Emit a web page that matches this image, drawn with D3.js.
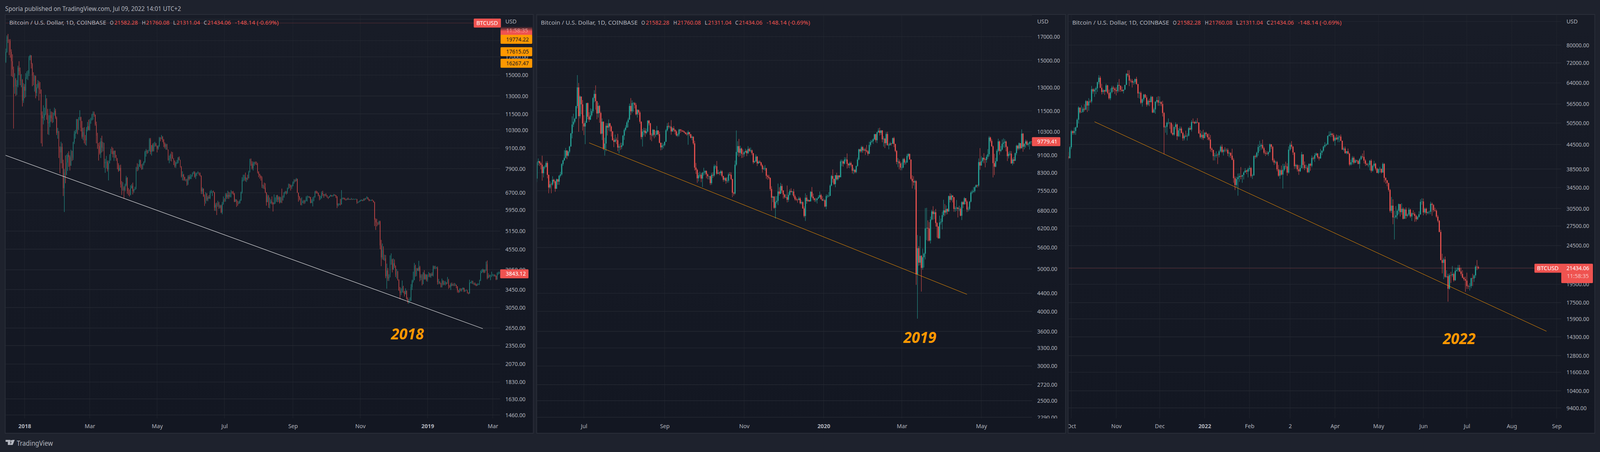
<!DOCTYPE html>
<html>
<head>
<meta charset="utf-8">
<script src="https://d3js.org/d3.v7.min.js"></script>
<style>
html, body { margin: 0; padding: 0; width: 100%; height: 100%; overflow: hidden; background: #1e222d; }
svg { display: block; width: 100vw; height: 100vh; }
text { font-family: "Noto Sans", sans-serif; }
</style>
</head>
<body>
<svg id="chart" viewBox="0 0 4296 1156" preserveAspectRatio="none"></svg>
<script>
// daily candles, open is the previous close. values
var start2018 = Date.UTC(2017, 11, 14);
var open2018 = 16000;
var closes2018 = [
16400,17600,19500,19000,18950,17600,16500,15600,13800,14600,13900,14000,15800,15400,14400,14500,12600,13860,
13480,14780,15130,15160,16930,17150,16180,14970,14400,14900,13270,13800,14200,13600,13580,11400,11160,11250,11500,12760,11530,10780,10840,11400,11170,11100,11440,11750,11200,10100,10220,
9060,8830,9170,8200,6910,7700,7580,8240,8680,8550,8060,8900,8510,9470,10030,10160,11090,10380,11150,11230,10460,9830,10150,9690,9590,10310,10570,10310,
10920,11020,11440,11510,11430,10710,9900,9290,9230,8780,9530,9130,9150,8200,8260,8270,7860,8200,8600,8900,8890,8720,8920,8540,8440,8130,7790,7940,7090,6840,6930,
6820,7060,7420,6780,6770,6610,6900,7020,6770,6830,6940,7920,7890,8000,8360,8050,7890,8170,8280,8860,8920,8800,8940,9650,8870,9280,8930,9350,9390,9240,
9070,9220,9750,9700,9850,9620,9370,9180,9310,9010,8400,8470,8680,8670,8470,8340,8050,8230,8230,8520,8390,8000,7510,7580,7460,7330,7330,7110,7460,7370,7490,
7530,7640,7710,7480,7620,7650,7680,7620,7530,6760,6880,6540,6300,6640,6390,6490,6450,6710,6740,6750,6720,6050,6170,6150,6250,6070,6130,5850,6200,6380,
6350,6610,6510,6590,6530,6600,6750,6710,6660,6300,6390,6240,6220,6250,6350,6720,7310,7380,7470,7330,7410,7400,7720,8400,8170,7930,8190,8230,8210,8170,7730,
7600,7530,7410,7010,7030,6940,6720,6280,6540,6150,6240,6310,6250,6190,6270,6310,6580,6390,6490,6260,6480,6360,6520,6700,6730,6700,6910,7080,7030,6980,7010,
7190,7280,7260,7360,6700,6510,6410,6180,6250,6300,6280,6330,6480,6480,6520,6500,6250,6340,6390,6490,6750,6710,6700,6580,6430,6460,6680,6630,6590,6620,
6580,6500,6480,6540,6590,6550,6570,6610,6590,6530,6150,6190,6200,6180,6440,6460,6440,6400,6390,6420,6410,6410,6400,6420,6400,6410,6410,6410,6270,6280,6320,
6350,6370,6350,6420,6400,6440,6490,6410,6340,6370,6370,6350,6280,5570,5470,5430,5420,5500,4670,4300,4520,4240,4270,3780,3930,3720,3760,4200,4230,3960,
4130,4050,3820,3900,3680,3430,3370,3390,3520,3400,3340,3420,3240,3180,3190,3200,3510,3660,3680,4060,3830,3980,3930,4020,3740,3790,3580,3860,3710,3820,3690,
3800,3860,3780,3830,3800,4040,3990,4000,4000,3630,3640,3610,3510,3660,3580,3600,3620,3590,3680,3530,3520,3580,3550,3570,3560,3560,3530,3430,3400,3460,3430,
3460,3490,3410,3420,3430,3370,3360,3620,3620,3660,3590,3590,3570,3550,3570,3580,3660,3870,3900,3950,3880,3940,4100,3730,3800,3790,3790,3790,
3810,3810,3790,3700,3850,3860,3870,3843];
var highs2018 = [
16800,17990,19700,19890,19180,19200,17900,17300,15900,15200,14700,14500,16000,16500,15800,15100,14600,14200,
14100,15200,15400,15500,17100,17250,17200,16300,15300,15000,14950,14100,14500,14400,14300,13600,11700,12200,12000,13100,12800,11900,11400,11900,11700,11650,11600,12000,11900,11300,10450,
10200,9200,9500,9400,8400,7880,8650,8700,8800,8900,8650,9000,8930,9500,10230,10300,11100,11100,11250,11790,11280,10950,10450,10500,9950,10500,10880,11050,
11100,11200,11500,11700,11680,11450,10900,10100,9420,9480,9750,9900,9480,9430,8450,8620,8360,8350,8720,9050,9180,9100,8940,8950,8680,8500,8210,8090,8120,7250,7200,
7000,7130,7520,7450,6920,6850,7050,7110,7180,6880,6980,8000,8200,8150,8420,8400,8140,8190,8310,8930,9040,8980,8990,9740,9750,9290,9390,9440,9500,9420,
9250,9280,9820,9800,9950,9860,9680,9460,9380,9360,9010,8640,8760,8880,8850,8490,8360,8280,8390,8550,8590,8400,8040,7760,7620,7470,7360,7370,7550,7560,7610,
7590,7700,7760,7760,7690,7700,7760,7700,7690,7540,6950,6900,6620,6720,6680,6550,6590,6790,6830,6780,6800,6730,6240,6260,6340,6290,6170,6170,6290,6530,
6450,6680,6680,6790,6740,6710,6820,6770,6780,6690,6420,6400,6340,6320,6400,6750,7450,7580,7580,7690,7440,7580,7790,8450,8470,8310,8290,8280,8300,8290,8220,
7760,7630,7540,7490,7080,7180,7150,6720,6620,6590,6480,6400,6530,6280,6620,6490,6590,6600,6540,6530,6510,6890,6570,6730,6780,6780,6940,7130,7120,7080,7070,
7240,7350,7340,7410,7380,6710,6550,6450,6490,6350,6380,6370,6540,6570,6550,6540,6510,6410,6500,6540,6780,6800,6770,6700,6600,6560,6760,6790,6620,6650,
6670,6590,6510,6550,6610,6590,6590,6640,6620,6590,6540,6230,6230,6420,6820,6480,6480,6470,6420,6450,6480,6430,6420,6460,6420,6430,6420,6430,6420,6300,6340,
6380,6400,6380,6440,6450,6470,6540,6490,6420,6380,6390,6400,6350,6300,5620,5600,5470,5530,5530,4850,4730,4640,4380,4370,4120,4000,3830,4360,4420,4260,
4270,4240,4070,3970,3920,3700,3510,3480,3670,3540,3420,3480,3430,3270,3230,3270,3580,3690,3900,4140,4090,4000,4000,4200,4060,3830,3830,3890,3940,3840,3830,
3830,3890,3860,3860,3880,4070,4060,4060,4030,4040,3710,3650,3610,3720,3680,3660,3660,3630,3760,3710,3560,3610,3620,3590,3610,3600,3570,3530,3440,3480,3480,
3480,3500,3490,3440,3450,3440,3390,3690,3640,3670,3660,3620,3620,3590,3600,3600,3690,3930,3960,3980,3960,3960,4180,4210,3860,3820,3820,3900,
3840,3830,3830,3800,3880,3900,3900,3920];
var lows2018 = [
15900,16300,17500,18700,17200,16900,14900,14800,10400,13200,13000,13100,13800,15000,14000,13800,12100,12400,
12800,12900,14600,14500,14900,16600,15700,13900,14000,13400,12800,13000,13700,12600,13200,9400,9200,10700,11000,11400,11050,10000,9950,10500,10900,10800,10850,11350,11100,9950,9700,
8500,7650,8200,7920,6550,5870,7150,7550,7780,8000,7800,8100,8330,8380,9350,9700,10050,10000,10300,11000,10200,9700,9600,9400,9300,9250,10200,10270,
10250,10750,10990,11050,11280,10600,9400,9050,8350,8700,8500,8830,8900,7950,7680,7920,7750,7290,8190,8350,8740,8530,8330,8500,8330,7870,7730,7780,6940,6600,6790,
6430,6760,7000,6650,6580,6530,6580,6950,6620,6700,6820,6860,7760,7800,8000,7940,7840,7860,8080,8220,8580,8740,8790,8900,8720,8640,8880,8890,9180,9200,
8830,8990,9170,9530,9660,9480,9160,9070,8990,8990,8350,8200,8330,8300,8450,8100,7960,7940,8160,8190,8360,7960,7440,7290,7280,7270,7240,7030,7060,7290,7350,
7360,7480,7610,7430,7360,7520,7640,7550,7490,6640,6640,6510,6120,6220,6330,6320,6430,6410,6680,6550,6700,5920,5910,5750,6080,6000,6020,5830,5780,6170,
6290,6300,6420,6430,6420,6490,6490,6650,6600,6280,6290,6080,6130,6200,6220,6340,6660,7240,7280,7240,7210,7310,7390,7700,8060,7860,7800,8060,8130,8100,7650,
7450,7370,7280,6920,6890,6870,6680,6130,6280,6040,6020,6210,6180,5890,6200,6210,6290,6280,6290,6220,6260,6240,6350,6470,6650,6620,6650,6870,6910,6800,6880,
7000,7130,7210,7240,6690,6300,6360,6150,6140,6240,6200,6220,6320,6310,6480,6450,6230,6240,6100,6320,6480,6660,6660,6540,6360,6390,6440,6550,6470,6540,
6530,6470,6420,6470,6520,6520,6520,6540,6560,6460,6030,6100,6150,6140,6320,6400,6400,6370,6350,6370,6380,6380,6380,6380,6380,6390,6390,6400,6210,6240,6270,
6300,6330,6320,6330,6350,6390,6450,6380,6320,6340,6330,6330,6260,5330,5190,5320,5360,5380,4550,4050,4240,4220,4200,3730,3470,3660,3660,3750,4090,3880,
3950,4000,3760,3720,3670,3420,3230,3320,3380,3370,3290,3340,3220,3140,3130,3180,3190,3440,3620,3680,3770,3780,3920,3910,3650,3680,3550,3590,3690,3690,3650,
3640,3760,3750,3740,3790,3770,3970,3970,3980,3570,3580,3580,3500,3500,3550,3560,3550,3570,3590,3470,3490,3440,3530,3540,3530,3540,3480,3380,3370,3380,3410,
3400,3450,3390,3400,3420,3360,3340,3350,3600,3590,3580,3560,3550,3530,3540,3560,3560,3660,3860,3880,3860,3870,3920,3700,3730,3750,3680,3760,
3790,3770,3770,3680,3690,3820,3840,3790];

var start2019 = Date.UTC(2019, 4, 26);
var open2019 = 8050;
var closes2019 = [
8770,8820,8720,8660,8280,8560,
8560,8740,8210,7680,7810,7800,8000,7930,7630,8020,7920,8170,8230,8690,8860,8980,9330,9080,9280,9530,10210,10700,10860,11030,11790,13010,11180,12400,11900,10760,
10590,10800,11980,11150,10980,11230,11480,12300,12570,12100,11340,11800,11370,10200,10860,9430,9680,10630,10530,10770,10590,10320,9850,9770,9880,9850,9480,9530,9510,9590,10090,
10400,10530,10820,10980,11800,11470,11980,11980,11860,11290,11560,11400,10860,10020,10310,10360,10230,10320,10920,10770,10130,10110,10410,10140,10140,10370,10170,9720,9490,9580,9600,
9770,10380,10620,10580,10580,10320,10490,10400,10320,10100,10160,10420,10370,10360,10310,10260,10190,10160,10280,10170,9980,10030,9690,8530,8430,8060,8190,8210,8050,8300,
8310,8380,8230,8150,8150,7860,8210,8180,8590,8590,8260,8300,8280,8360,8160,8000,8070,7950,7960,8230,8210,8030,7470,7440,8660,9260,9550,9220,9430,9170,9150,
9250,9310,9200,9410,9310,9340,9200,8770,8810,9040,8720,8800,8760,8630,8460,8490,8500,8170,8120,8080,7620,7280,7320,6900,7120,7160,7520,7430,7740,7560,
7400,7300,7300,7200,7390,7540,7500,7520,7340,7220,7200,7190,7250,7070,7110,6880,6610,7280,7150,7190,7140,7510,7320,7250,7190,7190,7250,7300,7380,7220,7170,
7180,6950,7340,7350,7350,7760,8160,8040,7820,8190,8020,8180,8110,8810,8810,8710,8900,8900,8700,8630,8730,8660,8390,8430,8330,8600,8900,9390,9290,9500,9340,
9380,9330,9290,9170,9610,9760,9800,9900,10170,9850,10270,10360,10240,10370,9900,9930,9700,10180,9600,9600,9690,9670,9960,9660,9310,8790,8810,8720,8530,
8530,8920,8760,8760,9070,9160,8900,8040,7940,7890,7940,4860,5580,5170,5360,5030,5320,5420,6190,6210,6190,5810,6490,6770,6680,6740,6370,6250,5880,6390,6410,
6640,6810,6730,6860,6770,7340,7200,7360,7300,6860,6880,6910,6860,6870,6620,7110,7030,7260,7130,6840,6860,7130,7480,7510,7540,7690,7780,7760,8780,8620,
8830,8980,8900,8880,9030,9150,9990,9810,9540,8730,8570,8820,9320,9790,9310,9380,9670,9730,9780,9510,9060,9170,9180,8720,8900,8840,9200,9570,9430,9700,9450,
10200,9520,9670,9790,9620,9670,9750,9780,9779];
var highs2019 = [
8820,8950,8830,8780,9080,8600,
8640,8820,8830,8220,7950,7880,8150,8040,7960,8050,8040,8200,8340,8730,8890,9350,9460,9350,9320,9570,10240,11170,11330,11080,11800,13880,13320,12470,12250,12170,
11240,10910,11980,12010,11420,11650,11620,12360,12820,13150,12110,12000,11860,11450,11050,10880,9980,10780,10770,10990,10790,10650,10340,9950,10150,9990,10190,9640,9720,9720,10130,
10480,10660,10900,11090,11950,12300,12150,12040,12040,11980,11600,11570,11480,10880,10450,10520,10500,10480,10950,10960,10800,10230,10450,10400,10350,10620,10380,10300,9730,9720,9680,
9780,10450,10780,10820,10640,10950,10560,10610,10440,10390,10240,10460,10450,10440,10380,10360,10280,10260,10370,10270,10180,10100,10060,9820,8740,8480,8300,8350,8290,8340,
8520,8410,8400,8270,8160,8170,8300,8320,8670,8650,8830,8430,8350,8420,8410,8170,8110,8110,8110,8300,8330,8320,8040,7510,8850,10370,9800,9920,9570,9480,9380,
9290,9420,9370,9550,9470,9480,9380,9210,8860,9140,9060,8860,8860,8790,8680,8580,8640,8520,8220,8210,8100,7730,7350,7340,7340,7340,7840,7690,7870,7820,
7570,7430,7410,7760,7490,7610,7650,7540,7620,7400,7290,7240,7320,7300,7180,7140,6950,7450,7380,7230,7190,7530,7700,7440,7270,7270,7270,7370,7520,7430,7340,
7250,7220,7410,7400,7500,7810,8210,8450,8030,8210,8300,8200,8200,8890,8900,8850,9010,9000,9190,8740,8790,8800,8660,8520,8450,8620,8990,9420,9420,9570,9550,
9450,9470,9610,9350,9770,9860,9880,9950,10180,10190,10300,10490,10520,10390,10390,10060,9970,10280,10300,9680,9770,9710,9990,10030,9670,9350,8970,8900,8800,
8760,8970,8980,8850,9170,9200,9190,8900,8190,8150,7990,7980,5980,5640,5950,5380,5570,5450,6890,6900,6460,6400,6590,6830,6960,6800,6860,6400,6270,6620,6520,
6760,7200,7040,6990,6880,7360,7450,7420,7380,7300,6950,7190,6930,6980,6930,7150,7150,7300,7260,7180,6940,7160,7530,7590,7700,7730,7800,7790,8950,9450,
9060,9000,9200,8960,9120,9400,10070,10040,9900,9580,9170,8980,9400,9930,9840,9560,9890,9950,9900,9830,9560,9270,9310,9300,8980,9020,9230,9620,9610,9740,9700,
10430,10230,9690,9880,9860,9730,9800,9800,9990];
var lows2019 = [
7900,8630,8600,8450,7960,8100,
8460,8530,8060,7450,7620,7450,7750,7860,7510,7620,7790,7790,8100,8180,8610,8840,8950,8920,9040,9200,9530,9950,10560,10780,11040,11650,10300,11050,11300,10360,
10120,9650,10800,11000,10850,10950,11150,11370,12030,11570,11000,11100,10800,10150,9860,9350,9080,9300,10100,10360,10320,10050,9830,9500,9740,9650,9300,9190,9360,9400,9560,
9870,10330,10510,10540,10970,11250,11360,11450,11650,11230,11100,11260,10750,9900,9530,10110,10030,10160,10270,10650,9870,9800,10040,9950,10010,10150,10100,9690,9340,9370,9430,
9540,9770,10320,10480,10480,10140,10300,10320,10160,10050,10020,10050,10240,10280,10300,10230,10150,10090,9620,10070,9950,9850,9620,8400,8250,7870,7930,8100,7900,7700,
8180,8220,8060,8020,8010,7780,7790,8080,8120,8480,8210,8250,8200,8190,8100,7920,7930,7830,7870,7880,8170,7990,7300,7360,7400,8600,9090,9030,9080,8970,8980,
9030,9210,9060,9160,9260,9240,9110,8690,8740,8790,8600,8690,8730,8580,8310,8430,8390,8040,8000,8020,7550,6800,7110,6860,6520,7060,7000,7360,7420,7470,
7240,7250,7260,7100,7120,7360,7480,7380,7280,7170,7160,7090,7210,7030,7020,6860,6560,6440,7050,7120,7120,7130,7270,7180,7120,7110,7060,7240,7270,7210,7150,
7150,6920,6850,7270,7300,7340,7730,7880,7780,7690,7970,7970,8050,8100,8590,8570,8670,8800,8490,8520,8500,8580,8270,8240,8280,8280,8570,8860,9220,9220,9220,
9300,9120,9230,9080,9170,9520,9720,9660,9860,9740,9700,10240,10100,10130,9750,9520,9450,9590,9570,9390,9580,9580,9670,9500,9250,8680,8550,8450,8410,
8410,8500,8660,8670,8760,9000,8900,8000,7640,7760,7600,4600,3850,5090,5100,4440,4980,5040,5260,5820,5790,5780,5720,6460,6480,6500,6250,5900,5860,5860,6320,
6160,6580,6610,6660,6670,6760,7100,7160,7100,6760,6760,6790,6560,6780,6600,6470,6890,7020,7030,6750,6770,6810,7100,7420,7470,7480,7680,7680,7700,8430,
8620,8760,8730,8540,8750,8930,9040,9730,9520,8100,8200,8540,8810,9260,9130,9250,9340,9480,9470,9290,8830,8950,9090,8700,8630,8700,8830,9110,9340,9360,9390,
9420,9270,9390,9470,9580,9530,9380,9640,9570];

var start2022 = Date.UTC(2021, 8, 29);
var open2022 = 41500;
var closes2022 = [
41040,43800,
48140,47630,48200,49230,51500,55340,53800,53950,54950,54680,57480,56000,57370,57350,61670,60870,61530,62010,64280,66000,62200,60690,61300,60850,63080,60330,58450,60590,62270,61890,61340,
60970,63250,62940,61440,61010,61530,63270,67550,66940,64880,64780,64150,64400,65520,63600,60160,60370,56920,58120,59750,58700,56300,57570,57170,58960,53750,54750,57290,57830,56990,
57210,56510,53600,49250,49400,50580,50620,50490,47670,47180,49320,50100,46730,48370,48880,47640,46150,46850,46700,46880,49010,48600,50820,50810,50410,50800,50700,47540,46470,47120,46210,
47690,47300,46440,45830,43430,43090,41550,41680,41860,41820,42730,43920,42590,43080,43070,43090,42200,42350,41660,40680,36470,35030,36280,36680,36960,36810,37160,37710,38170,37920,38480,
38740,36950,37080,41570,41380,42380,43840,44050,44380,43520,42380,42200,42070,42530,44550,43880,40520,40000,40130,38430,37020,38240,37260,38330,39210,39110,37700,43180,
44430,43920,42450,39150,39400,38420,37990,38730,41980,39440,38730,38810,37790,39680,39280,41120,40930,41770,42200,41260,41000,42370,42890,43960,44350,44510,46830,47130,47430,47070,45530,
46300,45860,46450,46620,45500,43170,43450,42280,42780,42160,39530,40080,41150,39940,40550,40380,39680,40800,41500,41370,40480,39710,39450,39450,40440,38110,39240,39740,38600,37630,
38470,38530,37730,39690,36550,36010,35470,34040,30080,31020,28930,28980,29290,30090,31310,29850,30430,28700,30320,29200,29430,30300,29100,29650,29540,29210,28630,29030,29470,31730,31800,
29800,30450,29700,29860,29910,31370,31130,30200,30110,29070,28370,26560,22490,22130,22580,20380,20450,19000,20580,20570,20720,19970,21110,21230,21490,21040,20730,20280,20100,19930,
19290,19230,19300,20230,20190,20550,21640,21582,21434];
var highs2022 = [
42580,44100,
48500,48350,49200,49450,51900,55750,55300,56100,55500,56400,57800,57650,58500,58000,62900,62000,62000,62600,64480,67000,66700,63650,61700,61500,63700,63300,61500,62000,62950,62900,62350,
62400,64250,65500,63100,62600,61550,63300,67800,69000,69000,65600,65500,65000,65600,66350,63500,60800,60900,58400,60000,60000,59500,58000,58350,59400,59200,55300,57450,58900,59200,
59100,57400,57600,53900,49800,50900,51900,50780,50800,50100,49500,50700,50300,49000,49500,49400,48000,47300,48300,47500,49300,49600,51380,51900,51100,51300,52000,50700,48500,48150,48550,
47900,47990,47550,47500,47080,43750,43150,42300,42750,42250,43100,44300,44500,43400,43800,43500,43500,42650,42500,43400,41100,36850,36800,37500,37550,38950,37200,38000,38700,38350,38800,
39300,38950,37400,41750,41900,42650,44500,45500,44800,45800,43900,43000,42750,42800,44750,44600,44150,40950,40450,40400,39450,38450,39300,39700,39700,40200,39850,44000,
44950,45400,44100,42500,39700,39600,39450,39400,42600,42000,40250,39500,39300,39800,39900,41700,41450,42300,42450,42300,41550,43350,43000,44200,45100,44800,46950,48100,48100,47650,47600,
46700,47200,47000,47000,47200,45500,43900,43950,42800,43450,42400,40700,41550,41500,40850,40700,40600,41100,41750,42200,42950,40800,39950,39900,40600,40800,39500,40400,39950,38800,
38650,39000,38650,40000,39850,36650,36100,35500,34250,32650,32200,30100,30950,30350,31400,31300,31450,30700,30500,30700,29650,30650,30450,29800,30200,29850,29400,29200,30000,32200,32400,
32350,30650,30650,29950,30130,31750,31600,31300,30650,30350,29350,28500,26900,23350,22800,22980,21200,20750,20800,21000,21720,20900,21500,21500,21860,21860,21500,21200,20400,20400,
20880,19440,19650,20250,20750,20650,21820,22500,21760];
var lows2022 = [
40800,41000,
43300,47130,47150,47100,49100,50400,53400,53650,53700,54100,54500,53900,54300,56900,56800,60100,58950,59900,60700,63500,62000,59800,60000,59600,60650,59850,58000,57800,60200,60700,59950,
59450,60350,60750,60700,60800,60150,61400,63200,66300,62800,64150,62300,63300,63600,63300,58600,58350,56500,55650,57400,58550,55650,55900,55800,57000,53550,53600,53350,56800,55900,
55900,55800,52500,42000,47700,47100,50100,48800,47350,46900,46850,48700,45700,46500,46600,47500,45500,45600,46500,45550,46650,48450,48050,50450,50200,50450,50480,47350,46100,45900,45700,
46200,46700,45700,45500,42650,42500,40500,40500,41200,39650,41250,42450,42300,41700,42550,42600,41550,41250,41100,40550,35500,34000,34600,32900,35700,36250,35500,36200,37800,37350,36650,
38000,36600,36300,37000,40950,41100,41650,42800,43100,43200,42000,41600,41900,41600,42450,43350,40100,39450,39650,38000,36800,36350,37050,34300,38000,38600,37000,37450,
42850,43400,41850,38550,38600,37950,37200,37850,38650,38600,38250,38650,37600,37600,38100,38900,40550,40150,41550,40900,40500,40900,41800,42600,43600,44100,44400,46650,46500,46550,45200,
44200,45650,45100,45100,45350,43100,42750,42150,42000,42000,39200,39300,39550,39600,39950,40000,39600,38600,40600,41000,39800,39200,39300,38900,38200,37700,37900,38900,38200,37600,
37400,37700,37500,37650,35600,35300,34750,33700,29800,29700,27800,25400,28750,28650,29500,29100,29400,28600,28700,28700,28950,29200,28850,28350,29350,28200,28250,28500,28900,29350,31200,
29300,29550,29300,29500,29500,29500,29200,29850,29950,28850,28100,26500,22600,20800,20100,20250,20250,17600,18900,19650,20350,19800,19900,21000,21000,20950,20500,20200,19900,18650,
18970,18970,18800,19050,19300,19780,20260,21200,21311];

// price axis ticks
var ticks2018 = [17000,15000,13000,11500,10300,9100,7900,6700,5950,5150,4550,3950,3450,3050,2650,2350,2070,1830,1630,1460];
var ticks2019 = [17000,15000,13000,11500,10300,9100,8300,7550,6800,6200,5600,5000,4400,4000,3600,3300,3000,2720,2500,2290];
var ticks2022 = [80000,72000,64000,56500,50500,44500,38500,34500,30500,27500,24500,19500,17500,15900,14300,12800,11600,10400,9400];
// grid lines whose labels sit under the tags
var hiddenTicks2018 = [22000,19000];
var hiddenTicks2019 = [19000];
var hiddenTicks2022 = [92000,21500];

// time axis
var months2018 = [[2018,0],[2018,2],[2018,4],[2018,6],[2018,8],[2018,10],[2019,0],[2019,2]];
var monthLabels2018 = ['2018','Mar','May','Jul','Sep','Nov','2019','Mar'];
var months2019 = [[2019,6],[2019,8],[2019,10],[2020,0],[2020,2],[2020,4]];
var monthLabels2019 = ['Jul','Sep','Nov','2020','Mar','May'];
var months2022 = [[2021,9],[2021,10],[2021,11],[2022,0],[2022,1],[2022,2],[2022,3],[2022,4],[2022,5],[2022,6],[2022,7],[2022,8]];
var monthLabels2022 = ['Oct','Nov','Dec','2022','Feb','2','Apr','May','Jun','Jul','Aug','Sep'];

// trend lines, [year, month, day] and price
var trendDates2018 = [[2017,11,14],[2019,1,20]];
var trendPrices2018 = [8673,2639];
var trendDates2019 = [[2019,6,5],[2020,3,20]];
var trendPrices2019 = [9716,4376];
var trendDates2022 = [[2021,9,17],[2022,7,25]];
var trendPrices2022 = [50900,14780];

var lastPrices = [3843.12, 9779.41, 21434.06];
var alertLabels = [19774.22, 17615.05, 16267.47];
var quote = 21434.06;
var headerText = 'Sporia published on TradingView.com, Jul 09, 2022 14:01 UTC+2';
var legendTitle = 'Bitcoin / U.S. Dollar, 1D, COINBASE';
// text, offset from panel left, width, colour key
var legendParts = [
    [legendTitle, 11, 260, 'g'], ['O', 281, 10, 'g'], ['21582.28', 293, 63, 'r'],
    ['H', 367, 10, 'g'], ['21760.08', 378, 63, 'r'], ['L', 451, 8, 'g'], ['21311.04', 460, 63, 'r'],
    ['C', 533, 9, 'g'], ['21434.06', 543, 63, 'r'], ['-148.14 (-0.69%)', 617, 117, 'r']
];

var UP = '#26a69a', DOWN = '#ef5350', ORANGE = '#ff9800', GREY = '#b2b5be', GRID = '#252933';
var TIME_TOP = 1070, FRAME_TOP = 37, FRAME_BOTTOM = 1108;
var fmt = d3.format('.2f');

var svg = d3.select('#chart');
var defs = svg.append('defs');
var bg = defs.append('linearGradient').attr('id', 'bg').attr('x1', 0).attr('y1', 0).attr('x2', 0).attr('y2', 1);
bg.append('stop').attr('offset', 0).attr('stop-color', '#181c27');
bg.append('stop').attr('offset', 1).attr('stop-color', '#131722');
var fade = defs.append('linearGradient').attr('id', 'fade').attr('x1', 0).attr('y1', 0).attr('x2', 0).attr('y2', 1);
fade.append('stop').attr('offset', 0).attr('stop-color', DOWN).attr('stop-opacity', 0);
fade.append('stop').attr('offset', 0.55).attr('stop-color', DOWN).attr('stop-opacity', 1);

svg.append('rect').attr('width', 4296).attr('height', 1156).attr('fill', '#1e222d');
svg.append('text').attr('x', 14).attr('y', 22).attr('dy', '.35em').attr('font-size', 17)
    .attr('fill', GREY).attr('textLength', 472).attr('lengthAdjust', 'spacingAndGlyphs').text(headerText);

function toDate(p) {
    return new Date(Date.UTC(p[0], p[1], p[2] || 1));
}

function clipRect(id, x, y, w, h) {
    defs.append('clipPath').attr('id', id).append('rect').attr('x', x).attr('y', y).attr('width', w).attr('height', h);
}

function tag(g, x, cy, w, h, fill, r) {
    return g.append('rect').attr('x', x).attr('y', cy - h / 2).attr('width', w).attr('height', h)
        .attr('rx', r).attr('fill', fill);
}

function label(g, x, cy, str, fill, weight) {
    return g.append('text').attr('x', x).attr('y', cy).attr('dy', '.35em').attr('font-size', 15)
        .attr('font-weight', weight || 400).attr('fill', fill).text(str);
}

function drawPanel(p) {
    var g = svg.append('g').attr('id', p.id);
    var y = d3.scaleLog().domain(p.priceDomain).range(p.priceRange);
    var x = d3.scaleUtc().domain([toDate(p.months[0]), toDate(p.months[p.months.length - 1])]).range(p.dateRange);
    var monthDates = p.months.map(toDate);

    g.append('rect').attr('x', p.left).attr('y', FRAME_TOP).attr('width', p.right - p.left).attr('height', FRAME_BOTTOM - FRAME_TOP)
        .attr('fill', 'url(#bg)').attr('stroke', '#2a2e39').attr('stroke-width', 2);

    clipRect(p.id + 'plot', p.left + 1, FRAME_TOP + 1, p.plotRight - p.left - 1, TIME_TOP - FRAME_TOP - 1);
    clipRect(p.id + 'scale', p.plotRight, FRAME_TOP + 1, p.right - p.plotRight - 1, TIME_TOP - FRAME_TOP - 1);
    clipRect(p.id + 'time', p.left + 1, TIME_TOP, p.right - p.left - 2, FRAME_BOTTOM - TIME_TOP);

    var plot = g.append('g').attr('clip-path', 'url(#' + p.id + 'plot)');
    plot.selectAll('line.v').data(monthDates).join('line').attr('class', 'v')
        .attr('x1', function (d) { return x(d); })
        .attr('x2', function (d) { return x(d); })
        .attr('y1', FRAME_TOP).attr('y2', TIME_TOP).attr('stroke', '#22262f').attr('stroke-width', 1.1);
    plot.selectAll('line.h').data(p.ticks.concat(p.hiddenTicks)).join('line').attr('class', 'h')
        .attr('x1', p.left).attr('x2', p.plotRight)
        .attr('y1', function (d) { return y(d); })
        .attr('y2', function (d) { return y(d); })
        .attr('stroke', GRID).attr('stroke-width', 1.4);

    if (p.showQuote) {
        plot.append('line').attr('x1', p.left).attr('x2', p.plotRight)
            .attr('y1', y(quote)).attr('y2', y(quote))
            .attr('stroke', DOWN).attr('stroke-dasharray', '1 2');
    }

    var candles = p.closes.map(function (c, i) {
        return {
            date: new Date(p.start + i * 864e5),
            open: i === 0 ? p.firstOpen : p.closes[i - 1],
            high: p.highs[i], low: p.lows[i], close: c
        };
    });
    var color = function (d) { return d.close >= d.open ? UP : DOWN; };
    var cx = function (d) { return x(d.date); };

    plot.selectAll('rect.wick').data(candles).join('rect').attr('class', 'wick')
        .attr('x', function (d) { return cx(d) - 0.5; }).attr('width', 1.05)
        .attr('y', function (d) { return y(Math.max(d.high, d.open, d.close)); })
        .attr('height', function (d) { return y(Math.min(d.low, d.open, d.close)) - y(Math.max(d.high, d.open, d.close)); })
        .attr('fill', color);
    plot.selectAll('rect.body').data(candles).join('rect').attr('class', 'body')
        .attr('x', function (d) { return cx(d) - p.bodyWidth / 2; }).attr('width', p.bodyWidth)
        .attr('y', function (d) { return y(Math.max(d.open, d.close)); })
        .attr('height', function (d) { return Math.max(1, Math.abs(y(d.open) - y(d.close))); })
        .attr('fill', color);

    var trend = d3.line().x(function (d) { return x(toDate(d[0])); }).y(function (d) { return y(d[1]); });
    g.append('g').attr('clip-path', 'url(#' + p.id + 'plot)').append('path')
        .attr('d', trend(d3.zip(p.trendDates, p.trendPrices)))
        .attr('fill', 'none').attr('stroke', p.trendColor).attr('stroke-width', p.trendWidth);

    g.append('text').attr('x', p.yearPos[0]).attr('y', p.yearPos[1]).attr('dy', '.35em').attr('text-anchor', 'middle')
        .attr('font-size', 39).attr('font-weight', 700).attr('font-style', 'italic').attr('fill', ORANGE)
        .attr('textLength', 88).attr('lengthAdjust', 'spacingAndGlyphs').text(p.year);

    // price axis
    var priceAxis = g.append('g').attr('clip-path', 'url(#' + p.id + 'scale)').append('g')
        .attr('transform', 'translate(' + p.plotRight + ',0)')
        .call(d3.axisRight(y).tickValues(p.ticks).tickFormat(fmt).tickSize(0).tickPadding(14));
    priceAxis.select('.domain').remove();
    priceAxis.selectAll('text').attr('font-size', 15).attr('font-family', '"Noto Sans", sans-serif')
        .attr('fill', GREY).attr('textLength', function (d) { return d >= 10000 ? 61 : 54; })
        .attr('lengthAdjust', 'spacingAndGlyphs');
    label(g, p.plotRight + 14, 55, 'USD', GREY);

    // time axis
    var timeAxis = g.append('g').attr('clip-path', 'url(#' + p.id + 'time)').append('g')
        .attr('transform', 'translate(0,' + TIME_TOP + ')')
        .call(d3.axisBottom(x).tickValues(monthDates)
            .tickFormat(function (d, i) { return p.monthLabels[i]; }).tickSize(0));
    timeAxis.select('.domain').remove();
    timeAxis.selectAll('text').attr('y', 20).attr('dy', '.35em').attr('font-size', 15)
        .attr('font-family', '"Noto Sans", sans-serif').attr('fill', GREY)
        .attr('font-weight', function (d, i) { return /^\d{4}$/.test(p.monthLabels[i]) ? 700 : 400; });

    // legend
    legendParts.forEach(function (part) {
        g.append('text').attr('x', p.left + part[1]).attr('y', 58).attr('dy', '.35em').attr('font-size', 15)
            .attr('fill', part[3] === 'r' ? DOWN : GREY)
            .attr('textLength', part[2]).attr('lengthAdjust', 'spacingAndGlyphs').text(part[0]);
    });

    p.tags(g, y);
}

function tags2018(g, y) {
    var c = y(quote);
    tag(g, 1272, c, 73, 23, DOWN, 2);
    label(g, 1279, c, 'BTCUSD', '#ffffff').attr('textLength', 58).attr('lengthAdjust', 'spacingAndGlyphs');
    g.append('rect').attr('x', 1344).attr('y', 68).attr('width', 85).attr('height', 22).attr('fill', 'url(#fade)');
    label(g, 1359, 78, '11:58:35', '#f5b5b3').attr('opacity', 0.75).attr('textLength', 59).attr('lengthAdjust', 'spacingAndGlyphs');
    alertLabels.forEach(function (v) {
        var cy = Math.max(y(v), 100.4);
        tag(g, 1344, cy, 85, 23, ORANGE, 2);
        label(g, 1359, cy, fmt(v), '#131722').attr('textLength', 61).attr('lengthAdjust', 'spacingAndGlyphs');
    });
    var l = y(lastPrices[0]);
    tag(g, 1343, l, 76, 23, DOWN, 2);
    label(g, 1358, l, fmt(lastPrices[0]), '#ffffff').attr('textLength', 54).attr('lengthAdjust', 'spacingAndGlyphs');
}

function tags2019(g, y) {
    var l = y(lastPrices[1]);
    tag(g, 2771, l, 76, 23, DOWN, 2);
    label(g, 2785, l, fmt(lastPrices[1]), '#ffffff').attr('textLength', 54).attr('lengthAdjust', 'spacingAndGlyphs');
}

function tags2022(g, y) {
    var c = y(lastPrices[2]);
    tag(g, 4120, c, 157, 23, DOWN, 2);
    g.append('rect').attr('x', 4192).attr('y', c + 8).attr('width', 85).attr('height', 30).attr('rx', 2).attr('fill', DOWN);
    label(g, 4127, c, 'BTCUSD', '#ffffff').attr('textLength', 58).attr('lengthAdjust', 'spacingAndGlyphs');
    label(g, 4206, c, fmt(lastPrices[2]), '#ffffff').attr('textLength', 61).attr('lengthAdjust', 'spacingAndGlyphs');
    label(g, 4207, c + 20, '11:58:35', '#f9c4c2').attr('textLength', 59).attr('lengthAdjust', 'spacingAndGlyphs');
}

drawPanel({
    id: 'p18', left: 14, right: 1432, plotRight: 1343, bodyWidth: 1, year: '2018', yearPos: [1094, 854],
    priceDomain: [1460, 17000], priceRange: [1061.4, 145.4], dateRange: [66, 1323],
    start: start2018, firstOpen: open2018, closes: closes2018, highs: highs2018, lows: lows2018,
    ticks: ticks2018, hiddenTicks: hiddenTicks2018, months: months2018, monthLabels: monthLabels2018,
    trendDates: trendDates2018, trendPrices: trendPrices2018, trendColor: '#e8e8ea', trendWidth: 1.2,
    showQuote: true, tags: tags2018
});
drawPanel({
    id: 'p19', left: 1441, right: 2861, plotRight: 2771, bodyWidth: 3, year: '2019', yearPos: [2470, 863],
    priceDomain: [2290, 17000], priceRange: [1067.3, 93.6], dateRange: [1567.7, 2634.8],
    start: start2019, firstOpen: open2019, closes: closes2019, highs: highs2019, lows: lows2019,
    ticks: ticks2019, hiddenTicks: hiddenTicks2019, months: months2019, monthLabels: monthLabels2019,
    trendDates: trendDates2019, trendPrices: trendPrices2019, trendColor: ORANGE, trendWidth: 1,
    showQuote: false, tags: tags2019
});
drawPanel({
    id: 'p22', left: 2868, right: 4282, plotRight: 4192, bodyWidth: 3, year: '2022', yearPos: [3918, 866],
    priceDomain: [9400, 80000], priceRange: [1043.3, 115.4], dateRange: [2876.5, 4179.6],
    start: start2022, firstOpen: open2022, closes: closes2022, highs: highs2022, lows: lows2022,
    ticks: ticks2022, hiddenTicks: hiddenTicks2022, months: months2022, monthLabels: monthLabels2022,
    trendDates: trendDates2022, trendPrices: trendPrices2022, trendColor: ORANGE, trendWidth: 1,
    showQuote: true, tags: tags2022
});

// TradingView mark
var logo = svg.append('g').attr('fill', GREY);
logo.append('path').attr('d', 'M15 1125H28V1138H21V1130H15Z');
logo.append('circle').attr('cx', 31).attr('cy', 1128).attr('r', 2.6);
logo.append('path').attr('d', 'M33 1125H39.5L34 1138H27.5Z');
logo.append('text').attr('x', 45).attr('y', 1133).attr('dy', '.35em').attr('font-size', 19)
    .attr('font-family', 'Lato, sans-serif').attr('textLength', 97).attr('lengthAdjust', 'spacingAndGlyphs').text('TradingView');
</script>
</body>
</html>
